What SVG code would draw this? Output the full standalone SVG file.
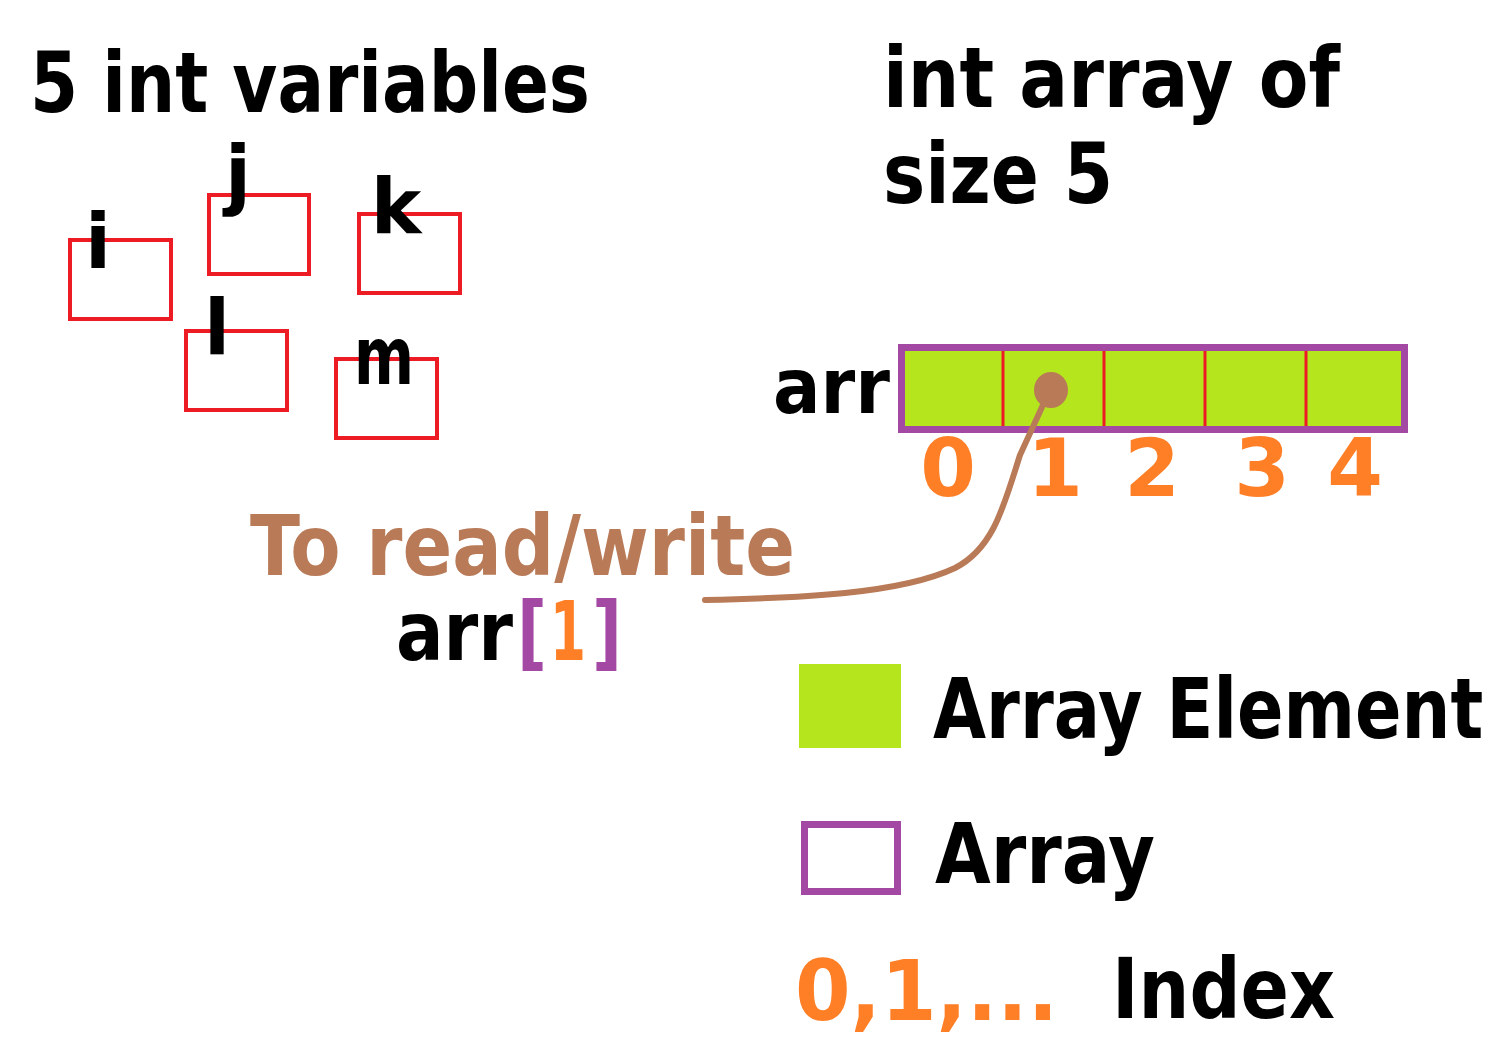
<svg xmlns="http://www.w3.org/2000/svg" width="1504" height="1052" viewBox="0 0 1504 1052">
<style>
.t{font-family:"DejaVu Sans","Liberation Sans",sans-serif;font-weight:bold;fill:#000}
.var{fill:none;stroke:#ed1c24;stroke-width:4}
.o{fill:#ff7f27}
.p{fill:#a349a4}
.b{fill:#b97a57}
.div{stroke:#ed1c24;stroke-width:3}
</style>
<rect width="1504" height="1052" fill="#fff"/>
<g id="title-vars"><text class="t" x="30" y="112" font-size="84" textLength="560" lengthAdjust="spacingAndGlyphs">5 int variables</text></g>
<g id="title-array"><text class="t" x="883" y="107" font-size="84" textLength="457" lengthAdjust="spacingAndGlyphs">int array of</text>
<text class="t" x="883" y="203" font-size="84" textLength="230" lengthAdjust="spacingAndGlyphs">size 5</text></g>
<g id="var-i"><rect class="var" x="70" y="240" width="101" height="79"/><text class="t" x="98" y="268" font-size="76" text-anchor="middle">i</text></g>
<g id="var-j"><rect class="var" x="209" y="195" width="100" height="79"/><text class="t" x="238" y="200" font-size="76" text-anchor="middle">j</text></g>
<g id="var-k"><rect class="var" x="359" y="214" width="101" height="79"/><text class="t" x="396" y="233" font-size="76" text-anchor="middle">k</text></g>
<g id="var-l"><rect class="var" x="186" y="331" width="101" height="79"/><text class="t" x="217" y="354" font-size="76" text-anchor="middle">l</text></g>
<g id="var-m"><rect class="var" x="336" y="359" width="101" height="79"/><text class="t" x="354" y="384" font-size="80" textLength="60" lengthAdjust="spacingAndGlyphs">m</text></g>
<g id="array">
<text class="t" x="773" y="413" font-size="76" textLength="117" lengthAdjust="spacingAndGlyphs">arr</text>
<rect x="901.5" y="347.5" width="503" height="82" fill="#b5e61d" stroke="#a349a4" stroke-width="7"/>
<line class="div" x1="1003" y1="351" x2="1003" y2="426"/>
<line class="div" x1="1104" y1="351" x2="1104" y2="426"/>
<line class="div" x1="1205" y1="351" x2="1205" y2="426"/>
<line class="div" x1="1306" y1="351" x2="1306" y2="426"/>
<g font-size="80" text-anchor="middle">
<text class="t o" x="948" y="496">0</text>
<text class="t o" x="1055" y="496">1</text>
<text class="t o" x="1152" y="496">2</text>
<text class="t o" x="1262" y="496">3</text>
<text class="t o" x="1355" y="496">4</text>
</g>
</g>
<g id="access">
<text class="t b" x="250" y="575" font-size="84" textLength="545" lengthAdjust="spacingAndGlyphs">To read/write</text>
<text class="t" transform="translate(396,660) scale(0.86,1)" font-size="82">arr</text>
<text class="t p" transform="translate(517,660) scale(0.8,1)" font-size="82">[</text>
<text class="t o" transform="translate(550,660) scale(0.63,1)" font-size="82">1</text>
<text class="t p" transform="translate(592,660) scale(0.8,1)" font-size="82">]</text>
</g>
<g id="connectors">
<path d="M1048 394 L1020 455 C1004 505 994 548 955 568 C900 594 800 598 705 600" fill="none" stroke="#b97a57" stroke-width="6" stroke-linecap="round"/>
<ellipse cx="1051" cy="390" rx="17" ry="18" fill="#b97a57"/>
</g>
<g id="legend-element"><rect x="799" y="664" width="102" height="84" fill="#b5e61d"/>
<text class="t" transform="translate(933,738) scale(0.817,1)" font-size="84">Array Element</text></g>
<g id="legend-array"><rect x="804.5" y="824.5" width="93" height="67" fill="none" stroke="#a349a4" stroke-width="7"/>
<text class="t" x="935" y="883" font-size="84" textLength="220" lengthAdjust="spacingAndGlyphs">Array</text></g>
<g id="legend-index"><text class="t o" x="795" y="1020" font-size="84" textLength="263" lengthAdjust="spacingAndGlyphs">0,1,...</text>
<text class="t" x="1112" y="1018" font-size="84" textLength="223" lengthAdjust="spacingAndGlyphs">Index</text></g>
</svg>
